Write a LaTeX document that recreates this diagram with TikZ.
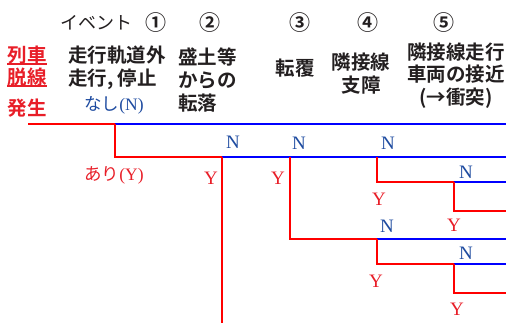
\documentclass[tikz,border=0pt]{standalone}
\usepackage{fontspec}
\newfontfamily\jp{Noto Sans CJK JP}[BoldFont={* Bold}]
\newfontfamily\lat{Liberation Serif}
\definecolor{lred}{RGB}{255,0,0}
\definecolor{lblue}{RGB}{0,0,255}
\definecolor{tred}{RGB}{232,30,40}
\definecolor{tblue}{RGB}{30,75,160}
\definecolor{tblack}{RGB}{35,31,32}
\begin{document}
\begin{tikzpicture}[x=1pt,y=-1pt,
  jtext/.style={font=\jp\bfseries\fontsize{19.5}{23}\selectfont, inner sep=0pt, text=tblack},
  htext/.style={font=\jp\fontsize{18}{20}\selectfont, inner sep=0pt, text=tblack},
  circnum/.style={font=\jp\bfseries\fontsize{21}{22}\selectfont, inner sep=0pt, text=tblack},
  redtext/.style={font=\jp\bfseries\fontsize{19.5}{23}\selectfont, inner sep=0pt, text=tred},
  ansred/.style={font=\jp\fontsize{17.5}{20}\selectfont, inner sep=0pt, text=tred},
  ansblue/.style={font=\jp\fontsize{17.5}{20}\selectfont, inner sep=0pt, text=tblue},
  nlab/.style={font=\lat\fontsize{19}{20}\selectfont, inner sep=0pt, text=tblue},
  ylab/.style={font=\lat\fontsize{19}{20}\selectfont, inner sep=0pt, text=tred},
  rline/.style={draw=lred, line width=2pt},
  bline/.style={draw=lblue, line width=2pt}]
\useasboundingbox (0,0) rectangle (511,323);

% header row
\node[htext] (ev) at (96,23) {イベント};
\node[circnum] (c1) at (156,23) {①};
\node[circnum] (c2) at (210,23) {②};
\node[circnum] (c3) at (300,23) {③};
\node[circnum] (c4) at (368,23) {④};
\node[circnum] (c5) at (444,23) {⑤};

% left label
\node[redtext] (l1) at (27,55) {列車};
\node[redtext] (l2) at (27,77) {脱線};
\node[redtext] (l3) at (27,108) {発生};
\draw[draw=tred, line width=2pt] (l1.south west) -- (l1.south east);
\draw[draw=tred, line width=2pt] (l2.south west) -- (l2.south east);

% event texts
\node[jtext, align=left, anchor=west] (t1) at (68,68) {走行軌道外\\走行, 停止};
\node[jtext, align=left, anchor=west] (t2) at (178,80) {盛土等\\からの\\転落};
\node[jtext] (t3) at (295,68) {転覆};
\node[jtext, align=center] (t4) at (361,73.5) {隣接線\\支障};
\node[jtext, align=center, font=\jp\bfseries\fontsize{19.5}{22.5}\selectfont] (t5) at (456,75.5) {隣接線走行\\車両の接近\\(→衝突)};

% answers
\node[ansblue] (nashi) at (114,105) {なし{\lat(N)}};
\node[ansred] (ari) at (114,175) {あり{\lat(Y)}};

% junction coordinates
\coordinate (s) at (28,124);
\coordinate (b1) at (115,124);
\coordinate (e1) at (506,124);
\coordinate (b1d) at (115,157);
\coordinate (b2) at (222,157);
\coordinate (e2) at (506,157);
\coordinate (b2d) at (222,324);
\coordinate (b3) at (290,157);
\coordinate (b3d) at (290,239);
\coordinate (b4) at (377,157);
\coordinate (b4d) at (377,182);
\coordinate (b5) at (454,182);
\coordinate (e5) at (506,182);
\coordinate (b5d) at (454,211);
\coordinate (e6) at (506,211);
\coordinate (b6) at (377,239);
\coordinate (e7) at (506,239);
\coordinate (b6d) at (377,264);
\coordinate (b7) at (454,264);
\coordinate (e8) at (506,264);
\coordinate (b7d) at (454,293);
\coordinate (e9) at (506,293);

% blue (N) lines
\draw[bline] (b1) -- (e1);
\draw[bline] (b2) -- (e2);
\draw[bline] (b5) -- (e5);
\draw[bline] (b6) -- (e7);
\draw[bline] (b7) -- (e8);

% red (Y) lines
\draw[rline] (s) -- (b1);
\draw[rline] (b1) -- (b1d) -- (b2);
\draw[rline] (b2) -- (b2d);
\draw[rline] (b3) -- (b3d) -- (b6);
\draw[rline] (b4) -- (b4d) -- (b5);
\draw[rline] (b5) -- (b5d) -- (e6);
\draw[rline] (b6) -- (b6d) -- (b7);
\draw[rline] (b7) -- (b7d) -- (e9);

% N / Y labels
\node[nlab] (n1) at (233,142) {N};
\node[nlab] (n2) at (299,143) {N};
\node[nlab] (n3) at (388,143) {N};
\node[nlab] (n4) at (466,172) {N};
\node[nlab] (n5) at (387,226) {N};
\node[nlab] (n6) at (466,253) {N};
\node[ylab] (y1) at (211,178) {Y};
\node[ylab] (y2) at (278,178) {Y};
\node[ylab] (y3) at (379,199) {Y};
\node[ylab] (y4) at (454,225) {Y};
\node[ylab] (y5) at (376,281) {Y};
\node[ylab] (y6) at (457,309) {Y};
\end{tikzpicture}
\end{document}
